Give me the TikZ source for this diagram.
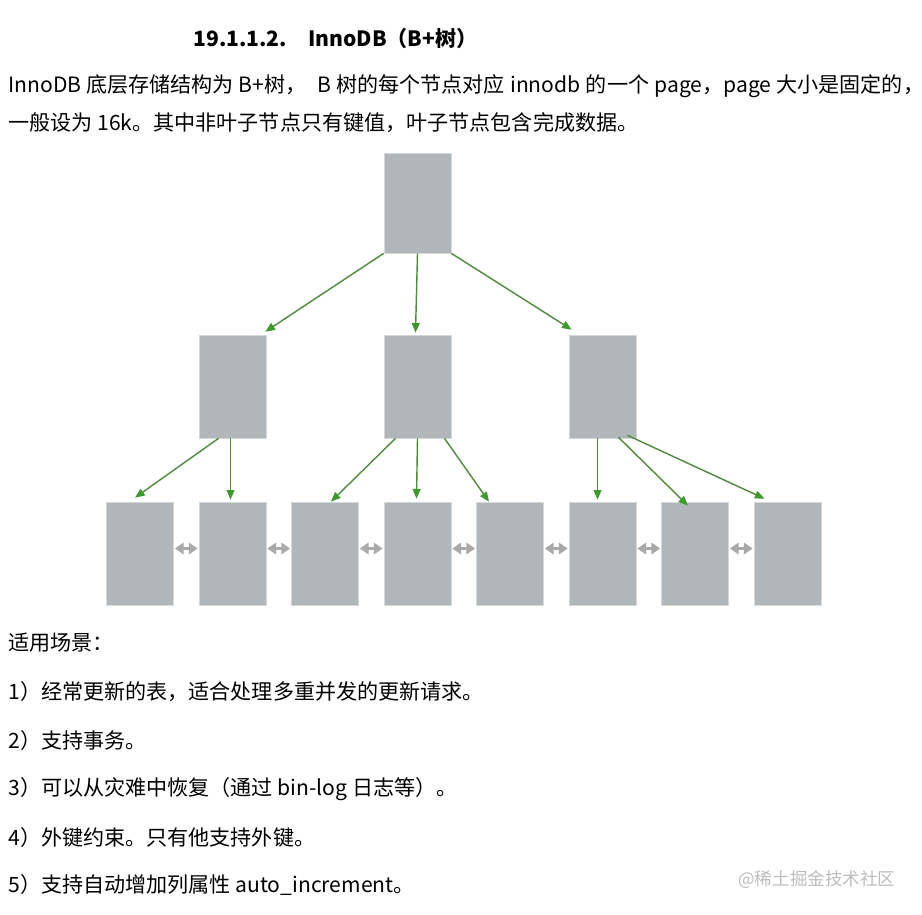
\documentclass[tikz,border=0pt]{standalone}
\usepackage{fontspec}
\setmainfont{Noto Sans CJK SC}
\usepackage{tikz}
\usetikzlibrary{arrows.meta,calc,positioning}
\usepackage{xcolor}
\definecolor{pagegray}{HTML}{B1B6BB}
\definecolor{pageshade}{HTML}{D5D8DB}
\definecolor{linkgreen}{HTML}{4E8A3E}
\definecolor{tipgreen}{HTML}{3F9A2E}
\definecolor{listgray}{HTML}{A9A9A9}
\definecolor{markgray}{HTML}{BDBDBD}
\newcommand{\cjkgap}{\hspace{0.25em}}

\tikzset{
  pagebox/.style={fill=pagegray,draw=pageshade,line width=0.4pt,minimum width=1.34cm,minimum height=2.06cm,inner sep=0pt},
  child/.style={-{Triangle[length=5.5pt,width=4.5pt,color=tipgreen]},draw=linkgreen,line width=0.8pt},
  sibling/.style={{Triangle[length=5pt,width=6.5pt]}-{Triangle[length=5pt,width=6.5pt]},draw=listgray,line width=1.9pt},
  txt/.style={anchor=west,inner sep=0pt,font=\fontsize{12}{14}\selectfont}
}

\begin{document}
\begin{tikzpicture}[x=0.02cm,y=-0.02cm]
  \useasboundingbox (0,0) rectangle (922,914);
  \node[anchor=west,inner sep=0pt,font=\fontsize{12}{14}\selectfont\bfseries] (title) at (193,38) {19.1.1.2.\hspace{1em}InnoDB（B+树）};
  \node[txt] (p1) at (8,86) {InnoDB 底层存储结构为\cjkgap B+树，\hspace{0.5em}B\cjkgap 树的每个节点对应\cjkgap innodb\cjkgap 的一个\cjkgap page，page\cjkgap 大小是固定的，};
  \node[txt] (p2) at (8,123) {一般设为 16k。其中非叶子节点只有键值，叶子节点包含完成数据。};

  \node[pagebox,minimum height=2cm] (root) at (417.5,203) {};
  \foreach \i/\x in {1/232.5,2/417.5,3/602.5}
    \node[pagebox] (m\i) at (\x,386.5) {};
  \foreach \i in {1,...,8}
    \node[pagebox] (l\i) at ({140+92.5*(\i-1)},553.5) {};

  \draw[child] (root.south west) -- ($(m1.north east)+(-1,-3)$);
  \draw[child] (root.south) -- ($(m2.north)+(-2,-2)$);
  \draw[child] (root.south east) -- ($(m3.north west)+(3,-5)$);
  \draw[child] ($(m1.south)+(-14,0)$) -- ($(l1.north)+(-5,-4)$);
  \draw[child] ($(m1.south)+(-2,0)$) -- ($(l2.north)+(-2,-2)$);
  \draw[child] ($(m2.south)+(-22,0)$) -- ($(l3.north)+(6,0)$);
  \draw[child] (m2.south) -- ($(l4.north)+(-1,-3)$);
  \draw[child] ($(m2.south)+(27,0)$) -- ($(l5.north)+(-21,0)$);
  \draw[child] ($(m3.south)+(-5,0)$) -- ($(l6.north)+(-5,-2)$);
  \draw[child] ($(m3.south)+(16,-1)$) -- ($(l7.north)+(-7,4)$);
  \draw[child] ($(m3.south)+(25,-3)$) -- ($(l8.north)+(-23,-3)$);
  \foreach \i [count=\j from 2] in {1,...,7}
    \draw[sibling] ($(l\i.east)+(1,-5)$) -- ($(l\j.west)+(-1,-5)$);

  \node[txt] (use) at (8,643) {适用场景：};
  \node[txt] (u1) at (8,692) {1）经常更新的表，适合处理多重并发的更新请求。};
  \node[txt] (u2) at (8,740) {2）支持事务。};
  \node[txt] (u3) at (8,789) {3）可以从灾难中恢复（通过 bin-log 日志等）。};
  \node[txt] (u4) at (8,837) {4）外键约束。只有他支持外键。};
  \node[txt] (u5) at (8,885) {5）支持自动增加列属性 auto\_increment。};
  \node[anchor=west,inner sep=0pt,text=markgray,font=\fontsize{10}{12}\selectfont] (mark) at (738,880) {@稀土掘金技术社区};
\end{tikzpicture}
\end{document}
